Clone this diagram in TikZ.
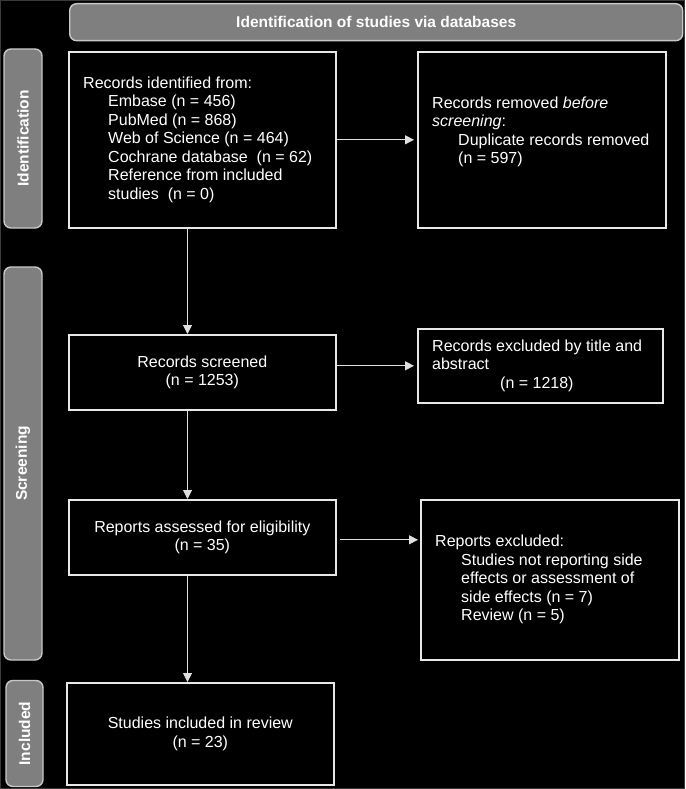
\documentclass[tikz,border=0pt]{standalone}
\usepackage{fontspec}
\setmainfont{Liberation Sans}
\usetikzlibrary{arrows.meta}
\definecolor{labelgray}{HTML}{7F7F7F}
\definecolor{labeledge}{HTML}{C8C8C8}
\definecolor{boxedge}{HTML}{E8E8E8}
\definecolor{arrowcol}{HTML}{E0E0E0}
\definecolor{framecol}{HTML}{3A3A3A}
\begin{document}
\begin{tikzpicture}[x=1pt,y=-1pt,
  box/.style={draw=boxedge, line width=1.6pt, rectangle, anchor=north west, inner sep=0pt,
    text=white, align=center, font=\fontsize{16}{18.5}\selectfont},
  txt/.style={anchor=west, align=left, text=white, inner sep=0pt, font=\fontsize{16}{18.5}\selectfont},
  phase/.style={draw=labeledge, fill=labelgray, line width=1.4pt, rounded corners=7pt, inner sep=0pt,
    text=white, font=\bfseries\fontsize{15.5}{18}\selectfont},
  arr/.style={draw=arrowcol, line width=1pt, -{Triangle[width=9pt,length=9pt]}}
]
\useasboundingbox (0,0) rectangle (685,789);
\fill[black] (0,0) rectangle (685,789);
\draw[framecol, line width=1pt] (0.5,0.5) rectangle (684.5,788.5);

% phase labels
\node[phase, anchor=north west, minimum width=613pt, minimum height=37pt] (hdr) at (69,3) {Identification of studies via databases};
\node[phase, rotate=90, anchor=center, minimum width=179pt, minimum height=38pt] (pid) at (23,138.5) {Identification};
\node[phase, rotate=90, anchor=center, minimum width=393pt, minimum height=38pt] (pscr) at (23,463.5) {Screening};
\node[phase, rotate=90, anchor=center, minimum width=106pt, minimum height=37pt] (pinc) at (24.5,733.5) {Included};

% boxes
\node[box, minimum width=267pt, minimum height=176pt] (b1) at (68,51) {};
\node[box, minimum width=248pt, minimum height=176pt] (b2) at (417,51) {};
\node[box, minimum width=267pt, minimum height=75pt] (b3) at (68,334) {Records screened\\(n = 1253)};
\node[box, minimum width=245pt, minimum height=74pt] (b4) at (417,328) {};
\node[box, minimum width=267pt, minimum height=75pt] (b5) at (68,499) {Reports assessed for eligibility\\(n = 35)};
\node[box, minimum width=258pt, minimum height=160pt] (b6) at (420,499) {};
\node[box, minimum width=267pt, minimum height=102pt] (b7) at (66,682) {Studies included in review\\(n = 23)};

% box texts
\node[txt] (t1) at ([xshift=15pt]b1.west) {Records identified from:\\
  \hspace*{25pt}Embase (n = 456)\\
  \hspace*{25pt}PubMed (n = 868)\\
  \hspace*{25pt}Web of Science (n = 464)\\
  \hspace*{25pt}Cochrane database\ \ (n = 62)\\
  \hspace*{25pt}Reference from included\\
  \hspace*{25pt}studies\ \ (n = 0)};
\node[txt] (t2) at ([xshift=15pt,yshift=8pt]b2.west) {Records removed \textit{before}\\
  \textit{screening}:\\
  \hspace*{26pt}Duplicate records removed\\
  \hspace*{26pt}(n = 597)};
\node[txt] (t4) at ([xshift=15pt]b4.west) {Records excluded by title and\\
  abstract\\
  \hspace*{68pt}(n = 1218)};
\node[txt] (t6) at ([xshift=15pt]b6.west) {Reports excluded:\\
  \hspace*{26pt}Studies not reporting side\\
  \hspace*{26pt}effects or assessment of\\
  \hspace*{26pt}side effects (n = 7)\\
  \hspace*{26pt}Review (n = 5)};

% connectors
\coordinate (ax) at (187.5,0);
\draw[arr] (b1.south -| ax) -- (b3.north -| ax);
\draw[arr] (b3.south -| ax) -- (b5.north -| ax);
\draw[arr] (b5.south -| ax) -- (b7.north -| ax);
\draw[arr, shorten >=3pt] (b1.east) -- (b2.west);
\draw[arr, shorten >=3pt] (b3.east |- b4.west) -- (b4.west);
\draw[arr, shorten <=3pt, shorten >=2pt] ([yshift=-2.5pt]b5.east) -- ([yshift=-2.5pt]b5.east -| b6.west);
\end{tikzpicture}
\end{document}
